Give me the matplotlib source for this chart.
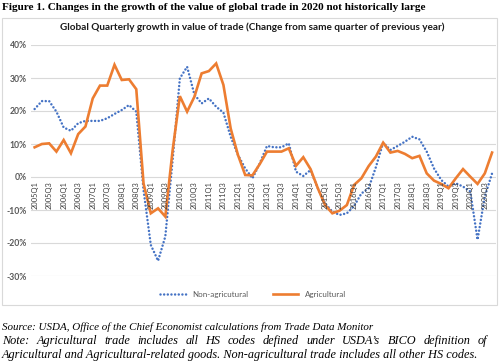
import matplotlib
matplotlib.use('Agg')
import matplotlib.pyplot as plt
from matplotlib.lines import Line2D
from matplotlib.patches import Rectangle

# quarterly growth, % change from same quarter of previous year (2005Q1 - 2020Q4)
years = list(range(2005, 2021))
quarters = [f'{y}Q{q}' for y in years for q in range(1, 5)]

non_ag = [20.6, 23.0, 23.0, 19.8, 15.0, 14.0, 16.3, 17.0,
          17.0, 17.0, 17.8, 19.1, 20.3, 21.8, 19.8, -4.0,
          -20.6, -25.4, -18.0, 5.0, 29.9, 33.4, 25.0, 22.3,
          23.8, 21.3, 19.5, 12.2, 6.7, 2.6, -0.4, 4.1,
          9.4, 9.0, 9.0, 10.2, 1.6, 0.3, 2.1, -3.4,
          -8.0, -10.5, -11.5, -11.0, -8.8, -5.0, -3.4, 3.0,
          10.4, 8.2, 9.4, 10.7, 12.2, 11.4, 7.7, 2.6,
          -0.9, -2.9, -1.9, -2.9, -4.4, -19.0, -5.9, 1.1]

agri = [9.0, 10.0, 10.2, 7.7, 11.2, 7.2, 13.0, 15.3,
        23.8, 27.7, 27.7, 34.0, 29.4, 29.6, 26.6, -2.0,
        -11.0, -9.5, -12.0, 8.0, 24.5, 19.8, 24.3, 31.4,
        32.1, 34.4, 27.9, 14.7, 6.7, 0.6, 0.5, 3.9,
        7.7, 7.7, 7.7, 8.7, 3.4, 6.0, 2.4, -3.4,
        -8.5, -11.0, -10.2, -8.5, -2.4, -0.4, 3.3, 6.2,
        10.4, 7.4, 7.9, 7.0, 5.7, 6.4, 1.1, -1.1,
        -2.1, -3.4, -0.4, 2.4, 0.1, -2.1, 1.1, 7.4]

yticks = [-30, -20, -10, 0, 10, 20, 30, 40]

W, H = 499, 362
BLUE = '#4472C4'
ORANGE = '#ED7D31'
GRID = '#D9D9D9'
TXT = '#595959'
DOTS = (0, (0.01, 1.45))

fig = plt.figure(figsize=(W / 100, H / 100), dpi=100)
r = fig.canvas.get_renderer()


def fx(px):
    return px / W


def fy(py):
    return 1 - py / H


def fit_width(t, target):
    w = t.get_window_extent(r).width
    t.set_fontsize(t.get_fontsize() * target / w)


# chart frame
fig.patches.append(Rectangle((fx(2), fy(305)), fx(495), (305 - 18) / H,
                             transform=fig.transFigure, fill=False,
                             edgecolor=GRID, lw=0.8))

ax = fig.add_axes([fx(31), fy(276), fx(464.7), (276 - 45) / H])
x = range(len(quarters))
ax.plot(x, non_ag, color=BLUE, lw=1.8, linestyle=DOTS,
        dash_capstyle='round', label='Non-agricutural')
ax.plot(x, agri, color=ORANGE, lw=1.9, solid_joinstyle='miter',
        label='Agricultural')

ax.set_xlim(-0.5, len(quarters) - 0.5)
ax.set_ylim(-30, 40)
ax.set_yticks(yticks)
ax.set_yticklabels([f'{v}%' for v in yticks], fontsize=6.2, color=TXT,
                   family='Lato', fontweight='bold')
ax.set_xticks([])
ax.tick_params(axis='y', length=0, pad=3)
ax.grid(axis='y', color=GRID, lw=0.8)
ax.set_axisbelow(True)
for s in ax.spines.values():
    s.set_visible(False)

# category labels sit right under the 0% line
for i in range(0, len(quarters), 2):
    ax.text(i, -1.2, quarters[i], rotation=90, ha='center', va='top',
            fontsize=5.4, color='#404040', family='Lato')

# legend
handles = [Line2D([], [], color=BLUE, lw=1.8, linestyle=DOTS,
                  dash_capstyle='round'),
           Line2D([], [], color=ORANGE, lw=1.9)]
fig.legend(handles, ['Non-agricutural', 'Agricultural'], loc='center',
           bbox_to_anchor=(fx(253), fy(294)), ncol=2, frameon=False,
           prop={'family': 'Lato', 'size': 5.8}, handlelength=3.2,
           columnspacing=3.0, handletextpad=0.8, labelcolor=TXT)

# titles
t1 = fig.text(fx(2), fy(8), 'Figure 1. Changes in the growth of the value of global trade in 2020 not historically large',
              ha='left', va='center', family='Liberation Serif', fontweight='bold', fontsize=8)
fit_width(t1, 422)
t2 = fig.text(fx(252.5), fy(27), 'Global Quarterly growth in value of trade (Change from same quarter of previous year)',
              ha='center', va='center', family='Lato', fontweight='bold', fontsize=6.5, color='#1a1a1a')
fit_width(t2, 385)

# source and note
note_kw = dict(family='Liberation Serif', style='italic', fontsize=8, va='center', ha='left')
t3 = fig.text(fx(2), fy(327), 'Source: USDA, Office of the Chief Economist calculations from Trade Data Monitor', **note_kw)
fit_width(t3, 375)
t5 = fig.text(fx(2), fy(355), 'Agricultural and Agricultural-related goods. Non-agricultural trade includes all other HS codes.', **note_kw)
fit_width(t5, 483)
note_kw['fontsize'] = t5.get_fontsize()

# justified note line
words = "Note: Agricultural trade includes all HS codes defined under USDA\u2019s BICO definition of".split()
widths = []
for wd in words:
    t = fig.text(0, 0, wd, **note_kw)
    widths.append(t.get_window_extent(r).width)
    t.remove()
gap = (487 - 2 - sum(widths)) / (len(words) - 1)
xpos = 2
for wd, w in zip(words, widths):
    fig.text(fx(xpos), fy(341), wd, **note_kw)
    xpos += w + gap

fig.savefig('out.png', dpi=100)
